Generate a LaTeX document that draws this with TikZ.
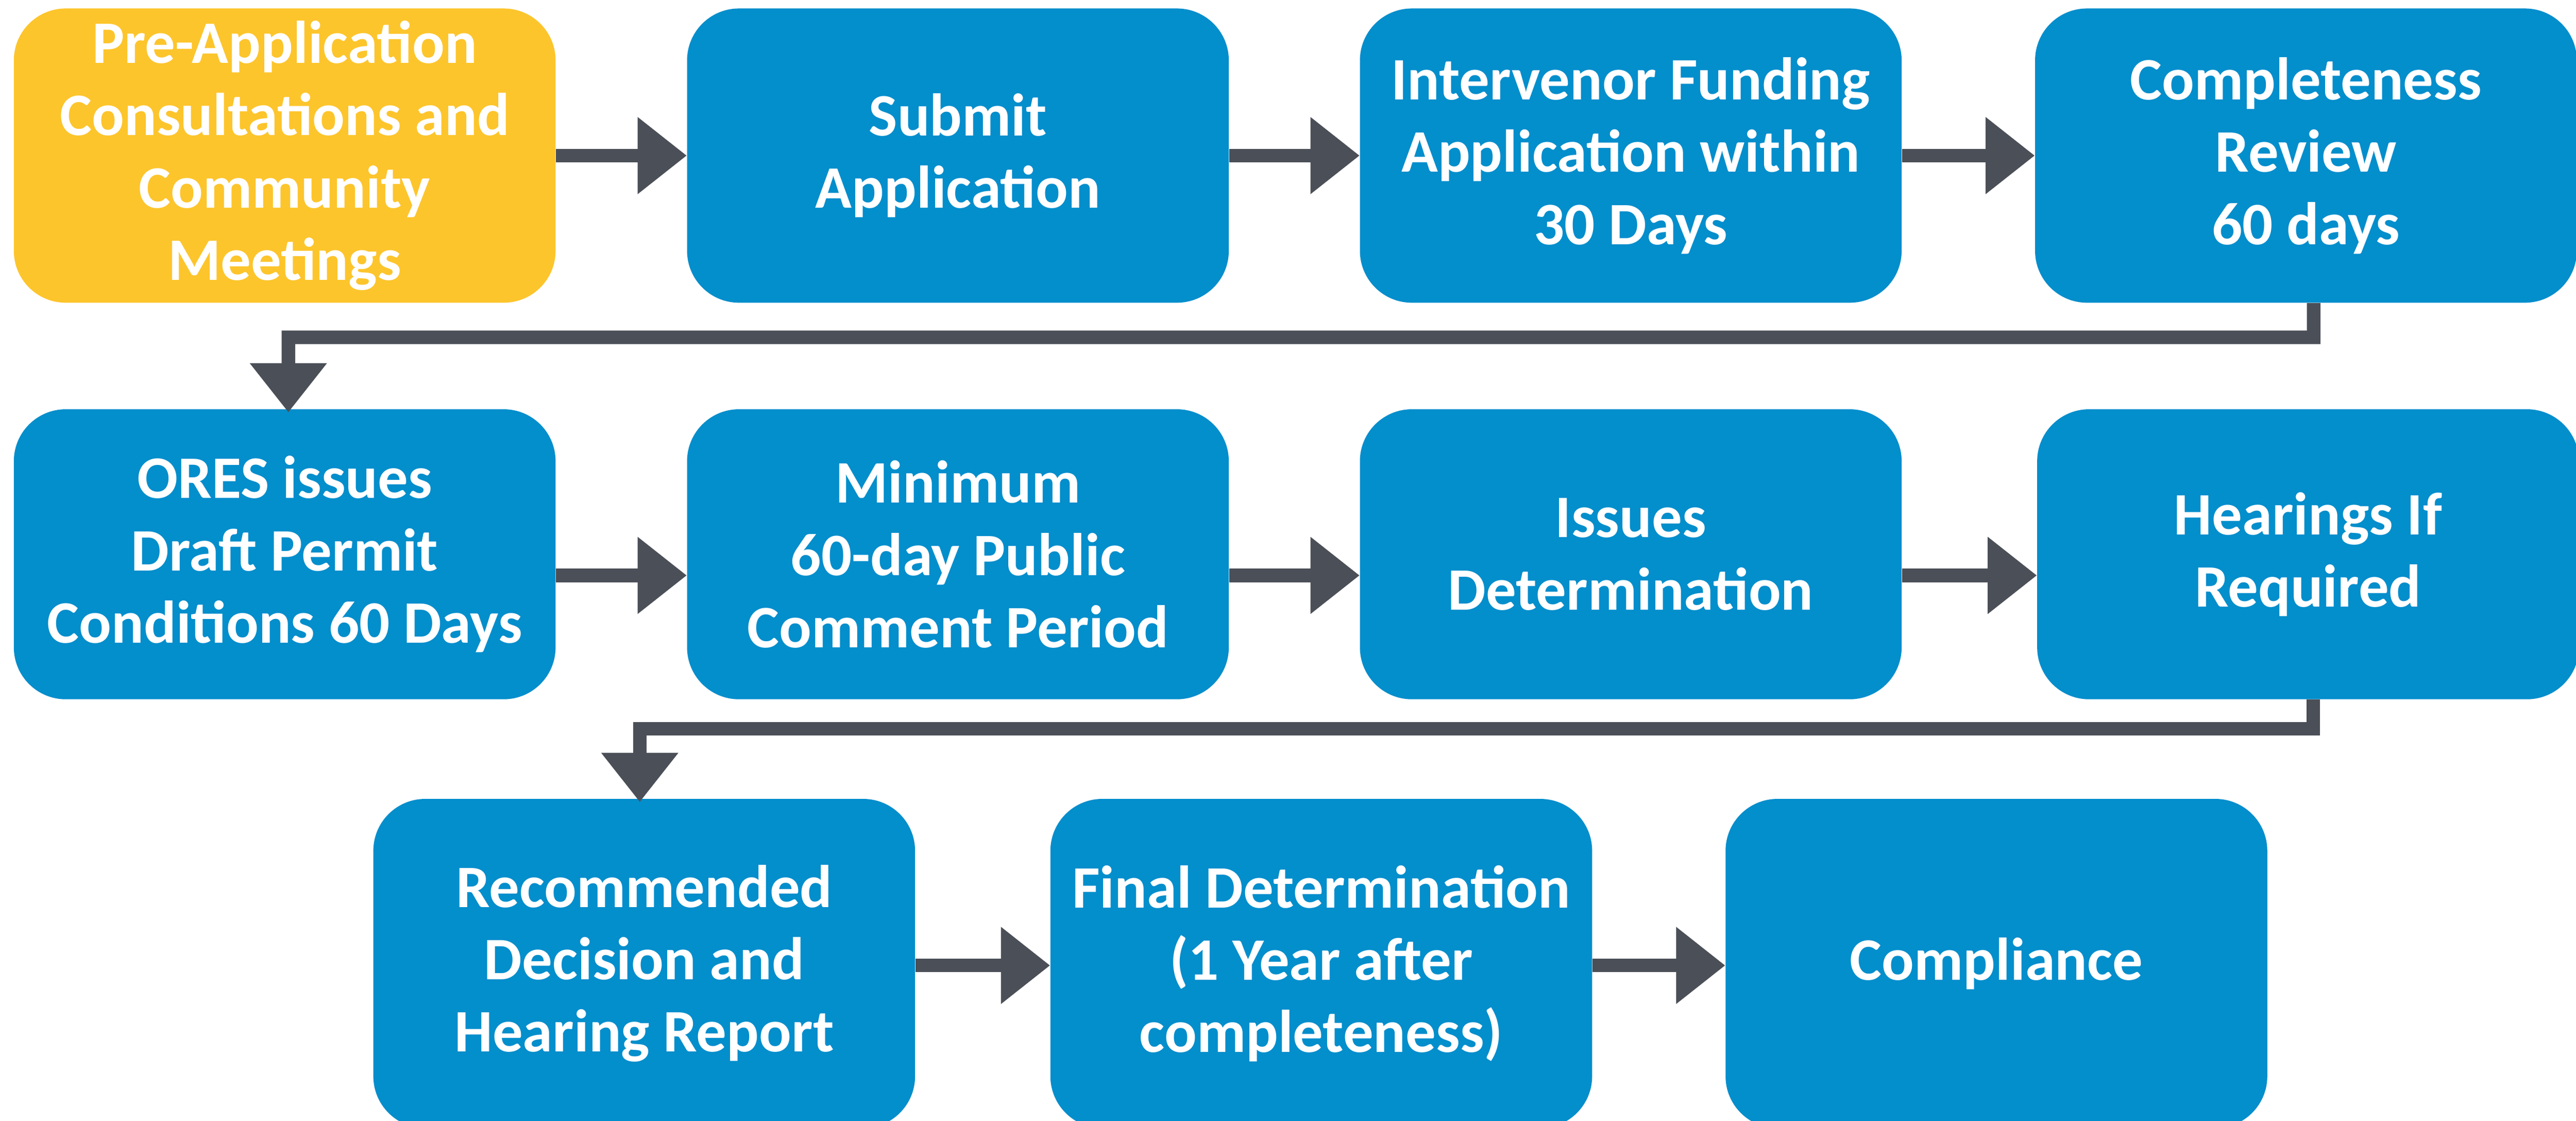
\documentclass[tikz,border=0pt]{standalone}
\usepackage{fontspec}
\setmainfont{Carlito}
\usetikzlibrary{arrows.meta}
\definecolor{boxblue}{HTML}{038ECC}
\definecolor{boxyellow}{HTML}{FDC52C}
\definecolor{conngray}{HTML}{4B4F57}
\tikzset{
  stepbox/.style={rectangle, rounded corners=1.35cm, fill=boxblue, draw=none,
    minimum width=14.09cm, inner sep=0pt, align=center, text=white,
    font=\bfseries\fontsize{44.6}{53.5}\selectfont},
  startbox/.style={stepbox, fill=boxyellow},
  rowone/.style={minimum height=7.65cm},
  rowtwo/.style={minimum height=7.54cm},
  rowthree/.style={minimum height=8.56cm},
  conn/.style={draw=conngray, line width=0.35cm, line join=miter,
    -{Triangle[length=1.28cm,width=1.92cm]}},
}
\begin{document}
\begin{tikzpicture}
\clip (0,0) rectangle (67,-29.14);
\fill[white] (0,0) rectangle (67,-29.14);
% row 1
\node[startbox, rowone] (b1) at (7.405,-4.045) {Pre-Application\\Consultations and\\Community\\Meetings};
\node[stepbox, rowone] (b2) at (24.915,-4.045) {Submit\\Application};
\node[stepbox, rowone] (b3) at (42.415,-4.045) {Intervenor Funding\\Application within\\30 Days};
\node[stepbox, rowone] (b4) at (59.975,-4.045) {Completeness\\Review\\60 days};
% row 2
\node[stepbox, rowtwo] (b5) at (7.405,-14.41) {ORES issues\\Draft Permit\\Conditions 60 Days};
\node[stepbox, rowtwo] (b6) at (24.915,-14.41) {Minimum\\60-day Public\\Comment Period};
\node[stepbox, rowtwo] (b7) at (42.415,-14.41) {Issues\\Determination};
\node[stepbox, rowtwo] (b8) at (60.03,-14.41) {Hearings If\\Required};
% row 3
\node[stepbox, rowthree] (b9) at (16.755,-25.05) {Recommended\\Decision and\\Hearing Report};
\node[stepbox, rowthree] (b10) at (34.365,-25.05) {Final Determination\\(1 Year after\\completeness)};
\node[stepbox, rowthree] (b11) at (51.925,-25.05) {Compliance};
% connectors row 1
\draw[conn] (b1.east) -- (b2.west);
\draw[conn] (b2.east) -- (b3.west);
\draw[conn] (b3.east) -- (b4.west);
% row 1 to row 2
\coordinate (c1) at (7.50,-8.77);
\draw[conn] ([xshift=0.2cm]b4.south) |- (c1) -- ([xshift=0.095cm,yshift=-0.09cm]b5.north);
% connectors row 2
\draw[conn] ([yshift=-0.55cm]b5.east) -- ([yshift=-0.55cm]b6.west);
\draw[conn] ([yshift=-0.55cm]b6.east) -- ([yshift=-0.55cm]b7.west);
\draw[conn] ([yshift=-0.55cm]b7.east) -- ([yshift=-0.55cm]b8.west);
% row 2 to row 3
\coordinate (c2) at (16.64,-18.95);
\draw[conn] ([xshift=0.14cm]b8.south) |- (c2) -- ([xshift=-0.115cm,yshift=-0.09cm]b9.north);
% connectors row 3
\draw[conn] ([yshift=-0.05cm]b9.east) -- ([yshift=-0.05cm]b10.west);
\draw[conn] ([yshift=-0.05cm]b10.east) -- ([yshift=-0.05cm]b11.west);
\end{tikzpicture}
\end{document}
